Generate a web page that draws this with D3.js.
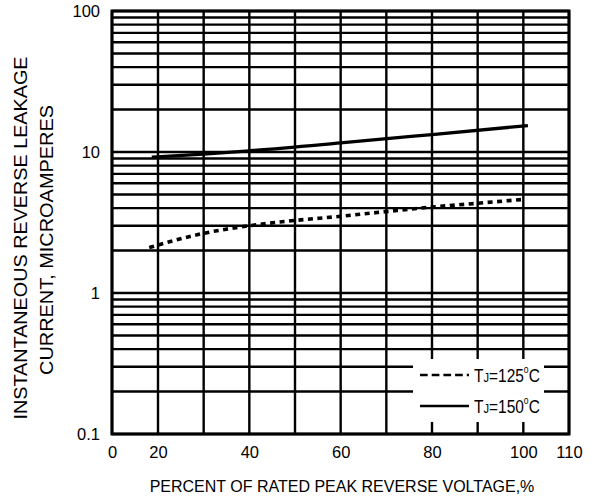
<!DOCTYPE html>
<html>
<head>
<meta charset="utf-8">
<script src="https://cdn.jsdelivr.net/npm/d3@7"></script>
<style>
  html, body { margin: 0; padding: 0; background: #fff; }
  svg { display: block; }
</style>
</head>
<body>
<div id="chart"></div>
<script>
// ---- data ----
const xTickValues = [0, 20, 40, 60, 80, 100, 110];
const xGridValues = [0, 20, 30, 40, 50, 60, 70, 80, 90, 100, 110];
const yTickValues = [0.1, 1, 10, 100];
const yTickLabels = ["0.1", "1", "10", "100"];

const tempLabels = ["125", "150"];
const x125 = [16.2, 30, 40, 50, 60, 70, 80, 90, 99.6];
const y125 = [2.1, 2.65, 3.0, 3.27, 3.5, 3.78, 4.07, 4.33, 4.6];
const x150 = [17.3, 30, 40, 60, 80, 101];
const y150 = [9.2, 9.67, 10.2, 11.6, 13.3, 15.4];

const xTitle = "PERCENT OF RATED PEAK REVERSE VOLTAGE,%";
const yTitle1 = "INSTANTANEOUS REVERSE LEAKAGE";
const yTitle2 = "CURRENT, MICROAMPERES";

// ---- layout ----
const W = 603, H = 497;
const svg = d3.select("#chart").append("svg")
  .attr("width", W).attr("height", H)
  .style("background", "#fff");

const x = d3.scaleLinear().domain([0, 20, 110]).range([112, 158, 569]);
const y = d3.scaleLog().domain([0.1, 100]).range([434, 11]);

// horizontal grid lines (1..9 per decade)
const hGrid = [];
[0.1, 1, 10].forEach(d => { for (let k = 1; k <= 9; k++) hGrid.push(+(d * k).toPrecision(3)); });
hGrid.push(100);

const g = svg.append("g");
g.selectAll("line.h").data(hGrid).enter().append("line")
  .attr("x1", x(0)).attr("x2", x(110))
  .attr("y1", d => y(d)).attr("y2", d => y(d))
  .attr("stroke", "#000").attr("stroke-width", 2.4);

g.selectAll("line.v").data(xGridValues).enter().append("line")
  .attr("x1", d => x(d)).attr("x2", d => x(d))
  .attr("y1", y(100)).attr("y2", y(0.1))
  .attr("stroke", "#000").attr("stroke-width", 2.4);

// border
g.append("rect")
  .attr("x", x(0)).attr("y", y(100))
  .attr("width", x(110) - x(0)).attr("height", y(0.1) - y(100))
  .attr("fill", "none").attr("stroke", "#000").attr("stroke-width", 3);

// axes labels via d3 axes (no domain / ticks lines)
const xAxis = d3.axisBottom(x).tickValues(xTickValues).tickSize(0).tickPadding(0).tickFormat(d3.format("d"));
const xa = svg.append("g").attr("transform", `translate(0,${y(0.1)})`).call(xAxis);
xa.select(".domain").remove();
xa.selectAll("text").attr("dy", null).attr("y", 24)
  .attr("font-family", "'Liberation Sans', Arial, sans-serif").attr("font-size", 16.5).attr("fill", "#000");

const yAxis = d3.axisLeft(y).tickValues(yTickValues).tickSize(0).tickPadding(0)
  .tickFormat((d, i) => yTickLabels[i]);
const ya = svg.append("g").attr("transform", `translate(100,0)`).call(yAxis);
ya.select(".domain").remove();
ya.selectAll("text").attr("x", 0).attr("dy", "0.36em")
  .attr("font-family", "'Liberation Sans', Arial, sans-serif").attr("font-size", 16.5).attr("fill", "#000");

// curves
const line = d3.line().x(d => x(d[0])).y(d => y(d[1])).curve(d3.curveMonotoneX);
svg.append("path")
  .datum(x150.map((v, i) => [v, y150[i]]))
  .attr("d", line).attr("fill", "none").attr("stroke", "#000").attr("stroke-width", 3.3);
svg.append("path")
  .datum(x125.map((v, i) => [v, y125[i]]))
  .attr("d", line).attr("fill", "none").attr("stroke", "#000").attr("stroke-width", 3.6)
  .attr("stroke-dasharray", "5,4.5");

// legend
const lg = svg.append("g");
lg.append("rect").attr("x", 413).attr("y", 359).attr("width", 131).attr("height", 63).attr("fill", "#fff");
const legendRows = [
  { label: tempLabels[0], dash: "7.7,4", yy: 375 },
  { label: tempLabels[1], dash: null, yy: 406 }
];
legendRows.forEach(r => {
  lg.append("line").attr("x1", 420).attr("x2", 469).attr("y1", r.yy).attr("y2", r.yy)
    .attr("stroke", "#000").attr("stroke-width", 2.7)
    .attr("stroke-dasharray", r.dash);
  const t = lg.append("text")
    .attr("transform", `translate(474,${r.yy + 6.5}) scale(0.86,1)`)
    .attr("font-family", "'Liberation Sans', Arial, sans-serif")
    .attr("font-size", 18).attr("fill", "#000");
  t.append("tspan").text("T");
  t.append("tspan").attr("font-size", 13).text("J");
  t.append("tspan").text("=" + r.label);
  t.append("tspan").attr("font-size", 10).attr("dy", -9).text("o");
  t.append("tspan").attr("dy", 9).text("C");
});

// titles
svg.append("text").attr("x", 342).attr("y", 492).attr("text-anchor", "middle")
  .attr("font-family", "'Liberation Sans', Arial, sans-serif").attr("font-size", 16)
  .attr("fill", "#000").text(xTitle);

svg.append("text").attr("transform", "translate(27,238) rotate(-90)").attr("text-anchor", "middle")
  .attr("font-family", "'Liberation Sans', Arial, sans-serif").attr("font-size", 18.5)
  .attr("textLength", 363).attr("lengthAdjust", "spacingAndGlyphs")
  .attr("fill", "#000").text(yTitle1);
svg.append("text").attr("transform", "translate(53,240) rotate(-90)").attr("text-anchor", "middle")
  .attr("font-family", "'Liberation Sans', Arial, sans-serif").attr("font-size", 18.5)
  .attr("textLength", 270).attr("lengthAdjust", "spacingAndGlyphs")
  .attr("fill", "#000").text(yTitle2);
</script>
</body>
</html>
